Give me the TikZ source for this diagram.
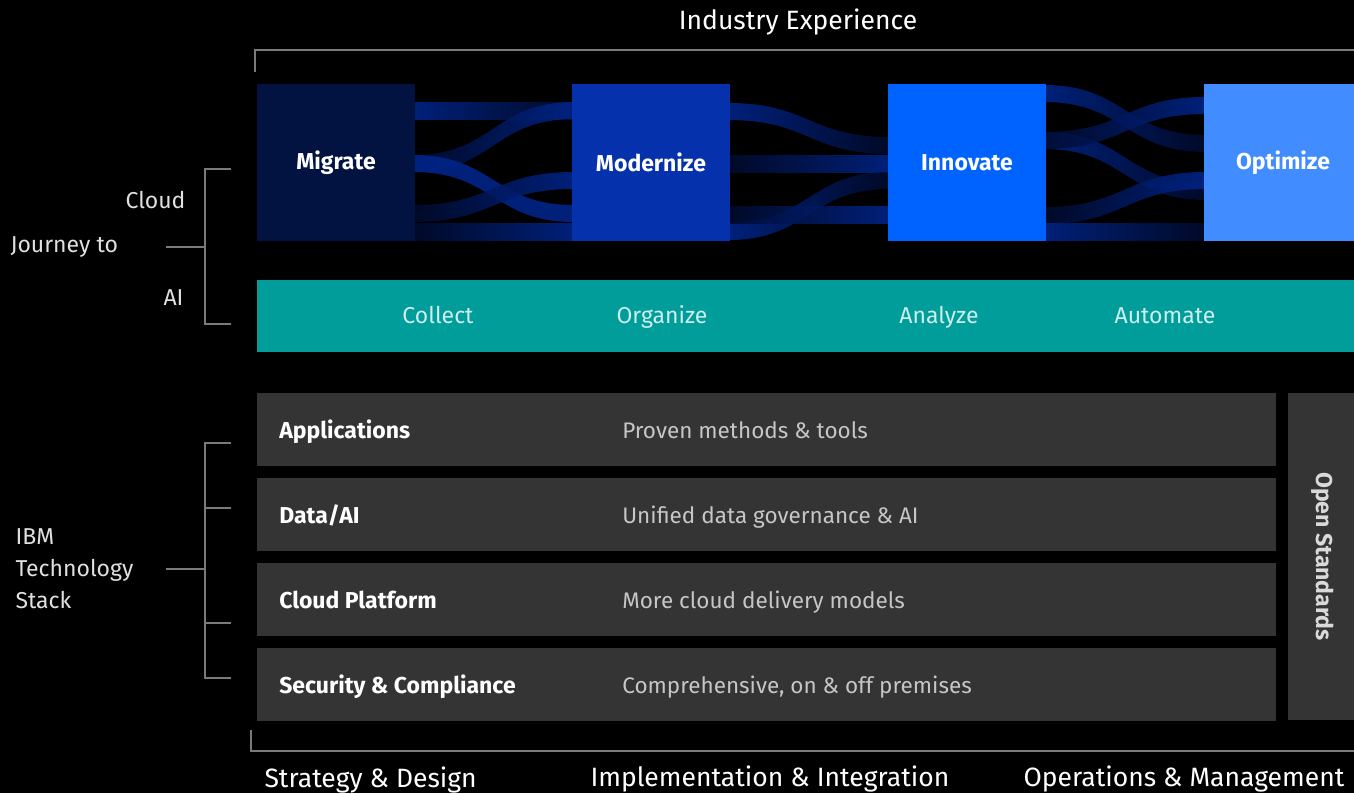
\documentclass[tikz,border=0pt]{standalone}
\usepackage{fontspec}
\setmainfont{Fira Sans}
\usepackage{tikz}
\usetikzlibrary{positioning}

\definecolor{migrateblue}{HTML}{021342}
\definecolor{modernblue}{HTML}{0531AC}
\definecolor{innoblue}{HTML}{0062FF}
\definecolor{optiblue}{HTML}{418CFF}
\definecolor{bandhi}{HTML}{00268F}
\definecolor{bandlo}{HTML}{000B2E}
\definecolor{aiteal}{HTML}{009D9A}
\definecolor{tealtext}{HTML}{CDEEEC}
\definecolor{rowgrey}{HTML}{343434}
\definecolor{desctext}{HTML}{C6C6C6}
\definecolor{bracketgrey}{HTML}{7A7A7A}

% one flow band between two stages: x1 y1 x2 y2 leftcolor rightcolor
\newcommand{\flowband}[6]{%
  \shade[left color=#5, right color=#6, fill opacity=0.85]
    (#1,#2) .. controls ({(#1+#3)/2},#2) and ({(#1+#3)/2},#4) .. (#3,#4)
    -- (#3,#4+17) .. controls ({(#1+#3)/2},#4+17) and ({(#1+#3)/2},#2+17) .. (#1,#2+17) -- cycle;}

\begin{document}
\begin{tikzpicture}[x=1pt, y=-1pt,
  stage/.style={minimum width=158pt, minimum height=157pt, inner sep=0pt,
    text=white, font=\fontsize{23}{27}\selectfont\bfseries},
  stackrow/.style={fill=rowgrey, minimum width=1019pt, minimum height=73pt, inner sep=0pt},
  rowlabel/.style={anchor=west, yshift=-3pt, text=white, text height=16pt, text depth=4pt,
    font=\fontsize{23}{27}\selectfont\bfseries},
  rowdesc/.style={anchor=west, yshift=-3pt, text=desctext, text height=16pt, text depth=4pt,
    font=\fontsize{22.5}{27}\selectfont},
  tealword/.style={text=tealtext, text height=16pt, text depth=4pt, font=\fontsize{23}{27}\selectfont},
  sidelabel/.style={text=white!88!black, font=\fontsize{23}{32}\selectfont},
  phase/.style={anchor=west, text=white, font=\fontsize{26.5}{30}\selectfont},
  bracket/.style={draw=bracketgrey, line width=1.6pt}]
%%%%% Canvas %%%%%
\clip (0,0) rectangle (1354,793);
\fill[black] (0,0) rectangle (1354,793);

%%%%% Industry experience %%%%%
\node[text=white, font=\fontsize{26.5}{30}\selectfont] (industry) at (798,22) {Industry Experience};
\draw[bracket] (255,72) -- (255,50) -- (1356,50);

%%%%% Flow bands %%%%%
% Migrate -> Modernize
\flowband{413}{102}{574}{102}{bandhi}{bandlo}
\flowband{413}{155}{574}{102}{bandlo}{bandhi}
\flowband{413}{155}{574}{205}{bandhi}{bandhi}
\flowband{413}{205}{574}{172}{bandlo}{bandhi}
\flowband{413}{223}{574}{223}{bandlo}{bandhi}
% Modernize -> Innovate
\flowband{728}{103}{890}{137}{bandhi}{bandlo}
\flowband{728}{155}{890}{155}{bandlo}{bandhi}
\flowband{728}{223}{890}{172}{bandhi}{bandlo}
\flowband{728}{206}{890}{206}{bandlo}{bandhi}
% Innovate -> Optimize
\flowband{1044}{85}{1206}{135}{bandhi}{bandlo}
\flowband{1044}{132}{1206}{183}{bandhi}{bandlo}
\flowband{1044}{132}{1206}{97}{bandlo}{bandhi}
\flowband{1044}{207}{1206}{172}{bandlo}{bandhi}
\flowband{1044}{223}{1206}{223}{bandhi}{bandlo}

%%%%% Stages %%%%%
\node[stage, fill=migrateblue] (migrate) at (336,162.5) {Migrate};
\node[stage, fill=modernblue] (modernize) at (651,162.5) {Modernize};
\node[stage, fill=innoblue] (innovate) at (967,162.5) {Innovate};
\node[stage, fill=optiblue, text width=150pt, align=center] (optimize) at (1283,162.5) {Optimize};

%%%%% AI ladder %%%%%
\node[fill=aiteal, minimum width=1100pt, minimum height=72pt, inner sep=0pt] (ladder) at (807,316) {};
\node[tealword] (collect) at (438,317) {Collect};
\node[tealword] (organize) at (662,317) {Organize};
\node[tealword] (analyze) at (939,317) {Analyze};
\node[tealword] (automate) at (1165,317) {Automate};

%%%%% Journey to Cloud / AI %%%%%
\node[sidelabel, anchor=east] (cloud) at (189,200) {Cloud};
\node[sidelabel, anchor=west] (journey) at (7,247) {Journey to};
\node[sidelabel, anchor=east] (ai) at (187,298) {AI};
\draw[bracket] (231,169) -- (205,169) -- (205,324) -- (231,324);
\draw[bracket] (166,247) -- (205,247);

%%%%% Technology stack %%%%%
\node[stackrow] (apps) at (766.5,429.5) {};
\node[stackrow] (data) at (766.5,514) {};
\node[stackrow] (platform) at (766.5,599) {};
\node[stackrow] (security) at (766.5,684) {};
\node[rowlabel] at ([xshift=19pt]apps.west) {Applications};
\node[rowlabel] at ([xshift=19pt]data.west) {Data/AI};
\node[rowlabel] at ([xshift=19pt]platform.west) {Cloud Platform};
\node[rowlabel] at ([xshift=19pt]security.west) {Security \& Compliance};
\node[rowdesc] at ([xshift=362pt]apps.west) {Proven methods \& tools};
\node[rowdesc] at ([xshift=362pt]data.west) {Unified data governance \& AI};
\node[rowdesc] at ([xshift=362pt]platform.west) {More cloud delivery models};
\node[rowdesc] at ([xshift=362pt]security.west) {Comprehensive, on \& off premises};
\node[fill=rowgrey, minimum width=70pt, minimum height=327pt, inner sep=0pt] (openstd) at (1323,556.5) {};
\node[rotate=-90, text=white!85!black, font=\fontsize{23}{27}\selectfont\bfseries] at (openstd.center) {Open Standards};

\node[sidelabel, anchor=west, align=left] (stack) at (12,569) {IBM\\Technology\\Stack};
\draw[bracket] (231,443) -- (205,443) -- (205,678) -- (231,678);
\draw[bracket] (205,508) -- (231,508);
\draw[bracket] (205,623) -- (231,623);
\draw[bracket] (166,569) -- (205,569);

%%%%% Delivery phases %%%%%
\draw[bracket] (251,730) -- (251,751) -- (1356,751);
\node[phase] (strategy) at (261,780) {Strategy \& Design};
\node[phase] (implement) at (587,779) {Implementation \& Integration};
\node[phase] (operations) at (1020,779) {Operations \& Management};
\end{tikzpicture}
\end{document}
